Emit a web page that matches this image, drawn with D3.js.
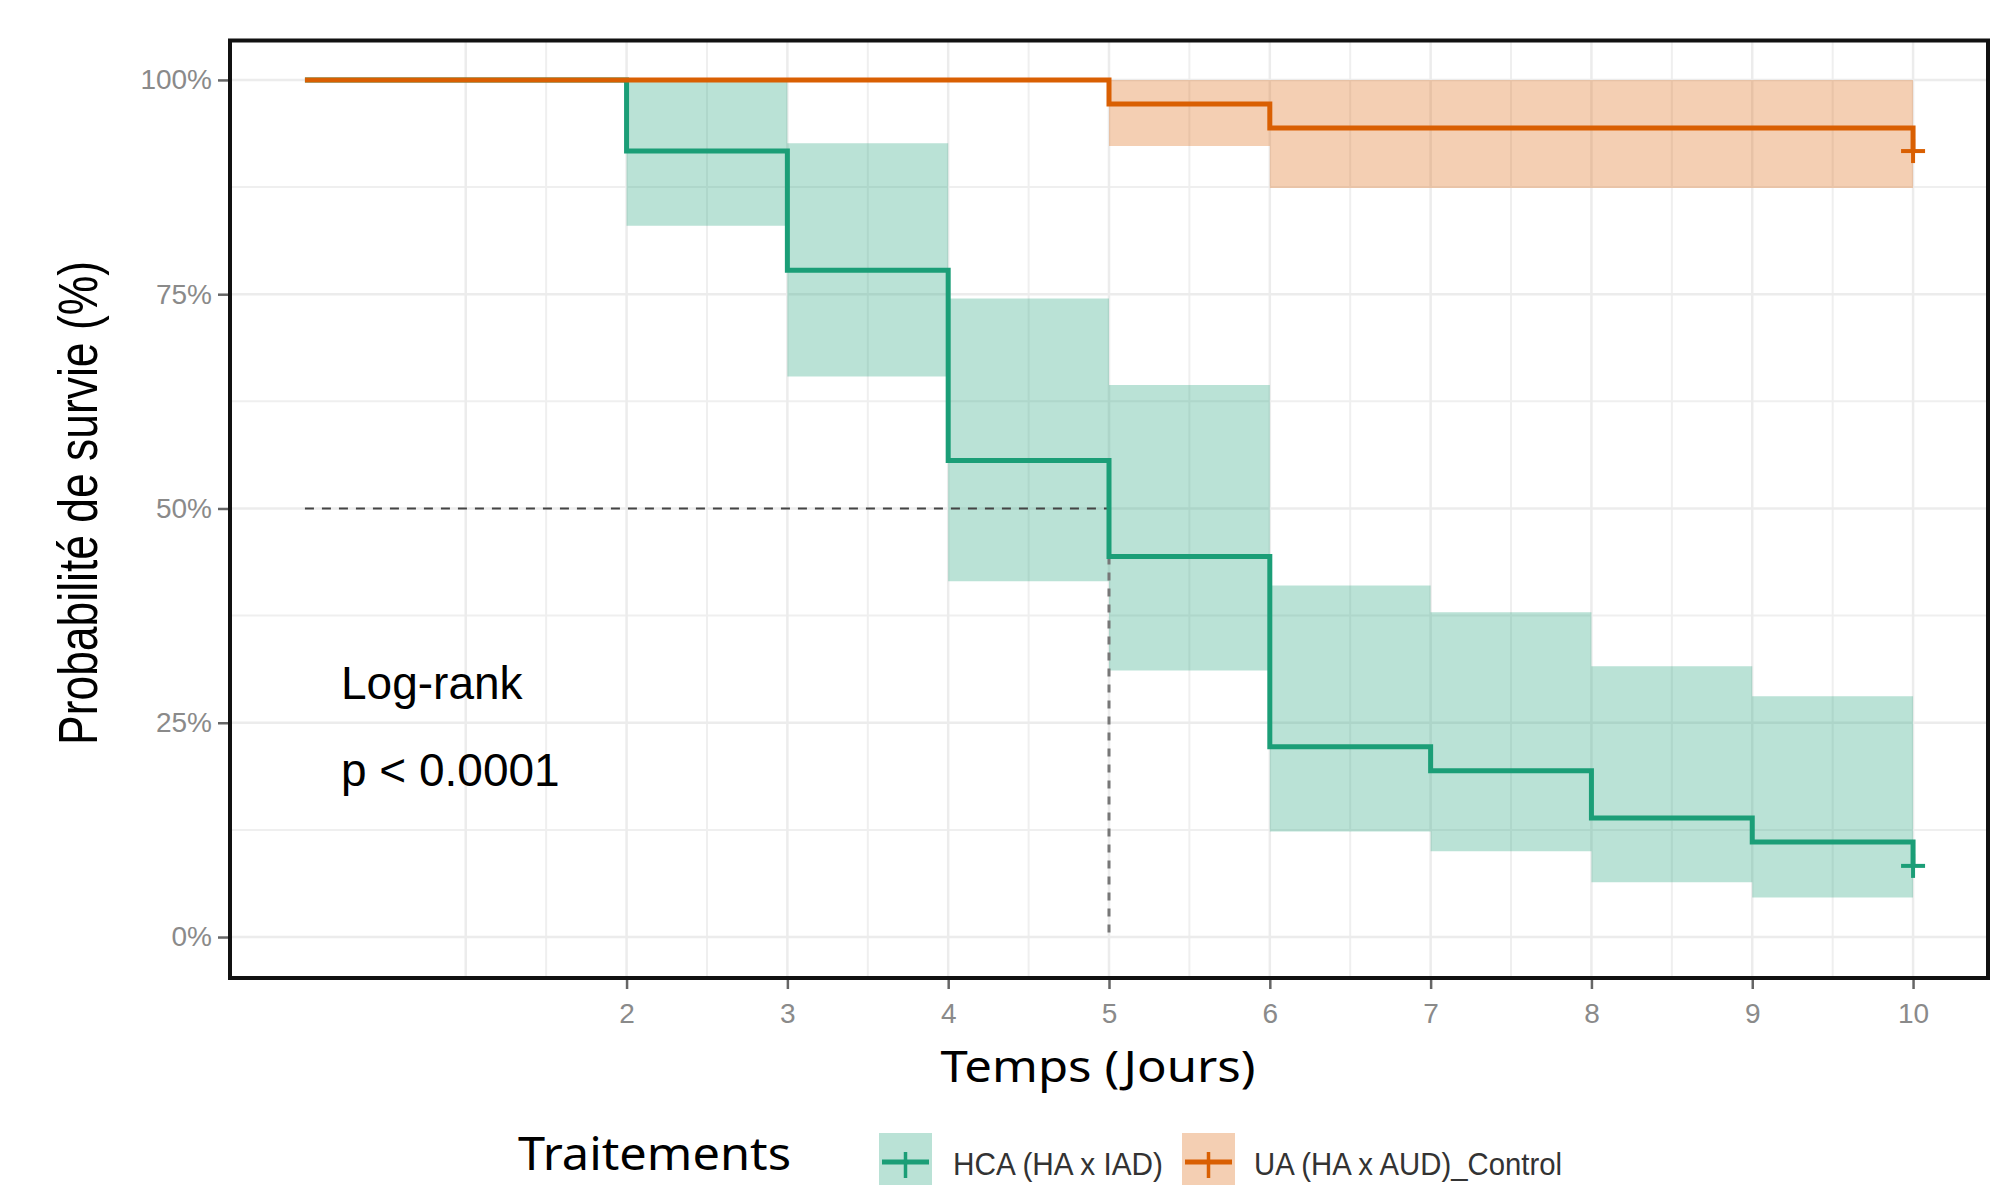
<!DOCTYPE html>
<html>
<head>
<meta charset="utf-8">
<script src="https://cdn.jsdelivr.net/npm/d3@7"></script>
<style>
  html, body { margin: 0; padding: 0; background: #ffffff; }
  svg { display: block; }
</style>
</head>
<body>
<div id="chart"></div>
<script>
// ---------------- DATA ----------------
const groupNames = ["HCA (HA x IAD)", "UA (HA x AUD)_Control"];
const groupColors = ["#1B9E77", "#D95F02"];

// HCA (HA x IAD) Kaplan-Meier steps (survival in %)
const timesHCA = [0, 2, 3, 4, 5, 6, 7, 8, 9, 10];
const survHCA  = [100, 91.7, 77.8, 55.6, 44.4, 22.2, 19.4, 13.9, 11.1, 8.3];
const upperHCA = [100, 100, 92.6, 74.5, 64.4, 41.0, 37.9, 31.6, 28.1, null];
const lowerHCA = [100, 83.0, 65.4, 41.5, 31.1, 12.3, 10.0, 6.4, 4.6, null];

// UA (HA x AUD)_Control
const timesUA = [0, 5, 6, 10];
const survUA  = [100, 97.2, 94.4, 91.7];
const upperUA = [100, 100, 100, null];
const lowerUA = [100, 92.3, 87.4, null];

// censor marks
const censorTimes = [10, 10];
const censorSurv  = [8.3, 91.7];

// median survival reference
const medianTime = 5;
const medianSurv = 50;

// axes
const xTickValues = [2, 3, 4, 5, 6, 7, 8, 9, 10];
const xGridMajor  = [1, 2, 3, 4, 5, 6, 7, 8, 9, 10];
const xGridMinor  = [1.5, 2.5, 3.5, 4.5, 5.5, 6.5, 7.5, 8.5, 9.5];
const yTickValues = [0, 25, 50, 75, 100];
const yGridMinor  = [12.5, 37.5, 62.5, 87.5];

const xTitle = "Temps (Jours)";
const yTitle = "Probabilité de survie (%)";
const legendTitle = "Traitements";
const annotationLines = ["Log-rank", "p < 0.0001"];

// ---------------- LAYOUT ----------------
const W = 1997, H = 1185;
const panel = { left: 230, right: 1988, top: 40.5, bottom: 978 };

const svg = d3.select("#chart").append("svg")
  .attr("width", W).attr("height", H)
  .attr("viewBox", `0 0 ${W} ${H}`);

svg.append("rect").attr("width", W).attr("height", H).attr("fill", "#ffffff");

const x = d3.scaleLinear().domain([-0.466, 10.466]).range([panel.left, panel.right]);
const y = d3.scaleLinear().domain([-4.78, 104.6]).range([panel.bottom, panel.top]);

// grid
const grid = svg.append("g");
grid.selectAll(".gxm").data(xGridMinor).join("line")
  .attr("x1", d => x(d)).attr("x2", d => x(d))
  .attr("y1", panel.top).attr("y2", panel.bottom)
  .attr("stroke", "#efefef").attr("stroke-width", 2);
grid.selectAll(".gym").data(yGridMinor).join("line")
  .attr("y1", d => y(d)).attr("y2", d => y(d))
  .attr("x1", panel.left).attr("x2", panel.right)
  .attr("stroke", "#efefef").attr("stroke-width", 2);
grid.selectAll(".gxM").data(xGridMajor).join("line")
  .attr("x1", d => x(d)).attr("x2", d => x(d))
  .attr("y1", panel.top).attr("y2", panel.bottom)
  .attr("stroke", "#ececec").attr("stroke-width", 2.5);
grid.selectAll(".gyM").data(yTickValues).join("line")
  .attr("y1", d => y(d)).attr("y2", d => y(d))
  .attr("x1", panel.left).attr("x2", panel.right)
  .attr("stroke", "#ececec").attr("stroke-width", 2.5);

// build series
function buildSeries(times, surv, upper, lower) {
  const pts = times.map((t, i) => ({ t, s: surv[i] }));
  const ci = times.map((t, i) => ({
    t,
    u: upper[i] != null ? upper[i] : upper[i - 1],
    l: lower[i] != null ? lower[i] : lower[i - 1]
  }));
  return { pts, ci };
}
const series = [
  buildSeries(timesHCA, survHCA, upperHCA, lowerHCA),
  buildSeries(timesUA, survUA, upperUA, lowerUA)
];

const area = d3.area().curve(d3.curveStepAfter)
  .x(d => x(d.t)).y0(d => y(d.l)).y1(d => y(d.u));
const line = d3.line().curve(d3.curveStepAfter)
  .x(d => x(d.t)).y(d => y(d.s));

// ribbons
series.forEach((s, i) => {
  svg.append("path").attr("d", area(s.ci))
    .attr("fill", groupColors[i]).attr("fill-opacity", 0.3).attr("stroke", "none");
});

// median dashed lines
svg.append("line")
  .attr("x1", x(0)).attr("x2", x(medianTime))
  .attr("y1", y(medianSurv)).attr("y2", y(medianSurv))
  .attr("stroke", "#444").attr("stroke-width", 2.2).attr("stroke-dasharray", "9,8");
svg.append("line")
  .attr("x1", x(medianTime)).attr("x2", x(medianTime))
  .attr("y1", y(medianSurv)).attr("y2", y(0))
  .attr("stroke", "#777").attr("stroke-width", 3).attr("stroke-dasharray", "8,8");

// step lines
series.forEach((s, i) => {
  svg.append("path").attr("d", line(s.pts))
    .attr("fill", "none").attr("stroke", groupColors[i])
    .attr("stroke-width", 5).attr("stroke-linejoin", "miter").attr("stroke-linecap", "butt");
});

// censor marks
censorTimes.forEach((t, i) => {
  const cx = x(t), cy = y(censorSurv[i]);
  const g = svg.append("g").attr("stroke", groupColors[i]).attr("stroke-width", 4);
  g.append("line").attr("x1", cx - 12).attr("x2", cx + 12).attr("y1", cy).attr("y2", cy);
  g.append("line").attr("x1", cx).attr("x2", cx).attr("y1", cy - 12).attr("y2", cy + 12);
});

// panel border
svg.append("rect")
  .attr("x", panel.left).attr("y", panel.top)
  .attr("width", panel.right - panel.left).attr("height", panel.bottom - panel.top)
  .attr("fill", "none").attr("stroke", "#111").attr("stroke-width", 4);

// axes
const xAxis = svg.append("g").attr("transform", `translate(0,${panel.bottom + 2})`)
  .call(d3.axisBottom(x).tickValues(xTickValues).tickSize(9).tickPadding(10).tickFormat(d3.format("d")));
const yAxis = svg.append("g").attr("transform", `translate(${panel.left - 2},0)`)
  .call(d3.axisLeft(y).tickValues(yTickValues).tickSize(10).tickPadding(6).tickFormat(d => d + "%"));
[xAxis, yAxis].forEach(a => {
  a.select(".domain").remove();
  a.selectAll(".tick line").attr("stroke", "#666").attr("stroke-width", 2.5);
  a.selectAll(".tick text")
    .attr("fill", "#8a8a8a")
    .style("font-family", "'Liberation Sans', Arial, sans-serif")
    .style("font-size", "28px");
});
xAxis.selectAll(".tick text").attr("dy", "0.85em");

// axis titles
svg.append("text")
  .attr("x", 1098).attr("y", 1082)
  .attr("text-anchor", "middle")
  .attr("textLength", 315).attr("lengthAdjust", "spacingAndGlyphs")
  .style("font-family", "'Noto Sans', 'Open Sans', sans-serif")
  .style("font-size", "44px").attr("fill", "#000")
  .text(xTitle);

svg.append("text")
  .attr("transform", "translate(97,503) rotate(-90)")
  .attr("text-anchor", "middle")
  .attr("textLength", 484).attr("lengthAdjust", "spacingAndGlyphs")
  .style("font-family", "'Liberation Sans', Arial, sans-serif")
  .style("font-size", "56px").attr("fill", "#000")
  .text(yTitle);

// annotation
annotationLines.forEach((t, i) => {
  svg.append("text")
    .attr("x", 341).attr("y", 699 + i * 87)
    .style("font-family", "'Liberation Sans', Arial, sans-serif")
    .style("font-size", "46px").attr("fill", "#000")
    .text(t);
});

// legend
svg.append("text")
  .attr("x", 518).attr("y", 1170)
  .attr("textLength", 273).attr("lengthAdjust", "spacingAndGlyphs")
  .style("font-family", "'Noto Sans', 'Open Sans', sans-serif")
  .style("font-size", "46px").attr("fill", "#000")
  .text(legendTitle);

const legendKeys = [
  { boxX: 879, labelX: 953, labelLen: 210 },
  { boxX: 1182, labelX: 1254, labelLen: 308 }
];
legendKeys.forEach((k, i) => {
  const g = svg.append("g");
  g.append("rect").attr("x", k.boxX).attr("y", 1133).attr("width", 53).attr("height", 60)
    .attr("fill", groupColors[i]).attr("fill-opacity", 0.3);
  const cy = 1162, cx = k.boxX + 26.5;
  g.append("line").attr("x1", k.boxX + 3).attr("x2", k.boxX + 50).attr("y1", cy).attr("y2", cy)
    .attr("stroke", groupColors[i]).attr("stroke-width", 5);
  g.append("line").attr("x1", cx).attr("x2", cx).attr("y1", cy - 10).attr("y2", cy + 16)
    .attr("stroke", groupColors[i]).attr("stroke-width", 3.5);
  g.append("text").attr("x", k.labelX).attr("y", 1175)
    .attr("textLength", k.labelLen).attr("lengthAdjust", "spacingAndGlyphs")
    .style("font-family", "'Liberation Sans', Arial, sans-serif")
    .style("font-size", "32px").attr("fill", "#333")
    .text(groupNames[i]);
});
</script>
</body>
</html>
